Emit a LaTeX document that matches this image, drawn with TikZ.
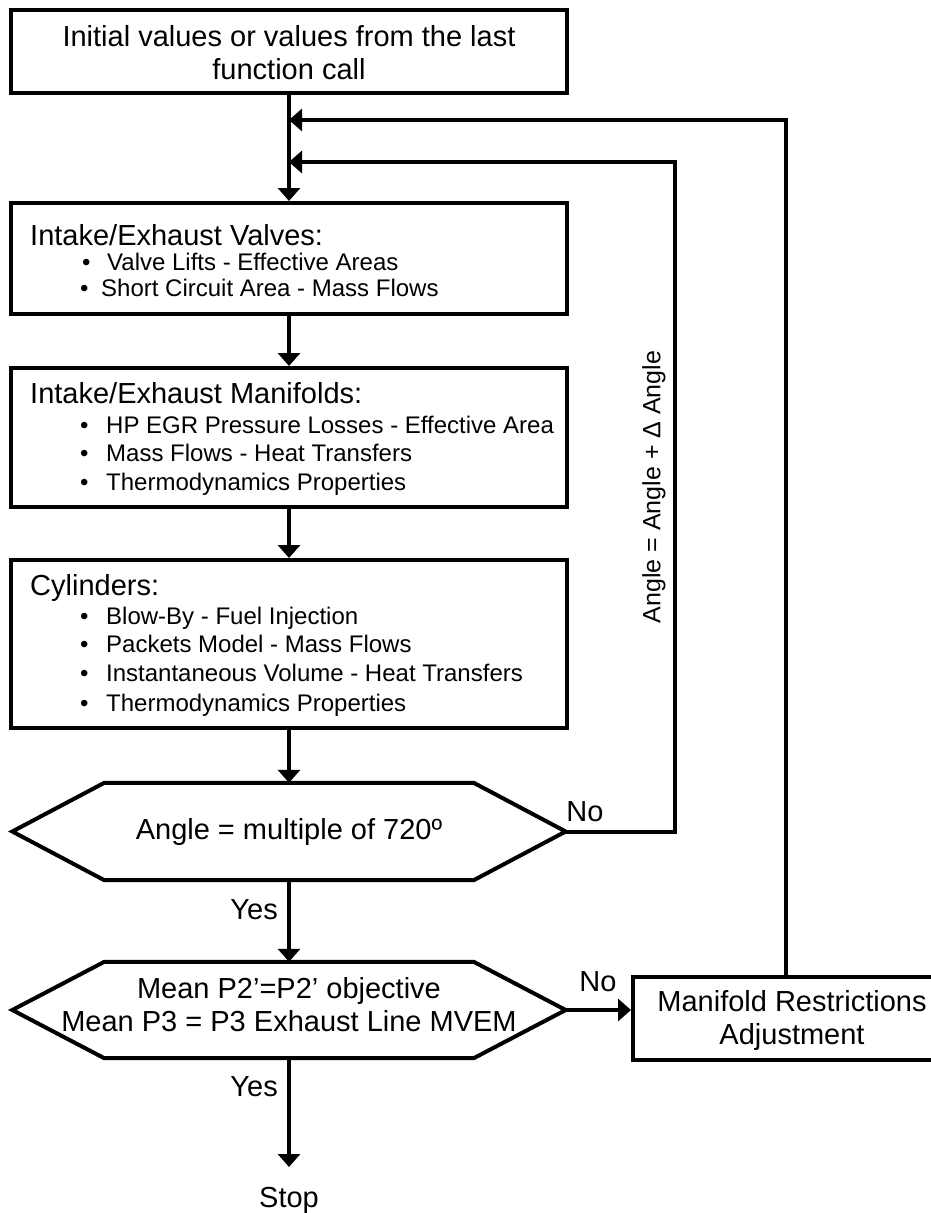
\documentclass[tikz,border=0pt]{standalone}
\usepackage{fontspec}
\setmainfont{Liberation Sans}
\usetikzlibrary{arrows.meta,calc}
\begin{document}
\begin{tikzpicture}[x=1pt,y=-1pt,
  box/.style={draw,line width=4pt,inner sep=0pt,minimum width=556pt,rectangle},
  hexshape/.style={inner sep=0pt,minimum width=553pt,minimum height=97pt,rectangle},
  arr/.style={line width=4pt,-{Triangle[length=13pt,width=22pt]}},
  big/.style={font=\fontsize{29}{33}\selectfont,inner sep=0pt},
  small/.style={font=\fontsize{24}{29}\selectfont,inner sep=0pt,anchor=base west},
  title/.style={font=\fontsize{29}{33}\selectfont,inner sep=0pt,anchor=base west}
]
\useasboundingbox (0,0) rectangle (930,1213);
\fill[white] (0,0) rectangle (930,1213);

% boxes
\node[box,minimum height=83pt] (init) at (289,51.5) {};
\node[big,align=center] (initT) at (289,53) {Initial values or values from the last\\function call};

\node[box,minimum height=111pt] (valves) at (289,258.5) {};
\node[title] (vT) at (30,245) {Intake/Exhaust Valves:};
\node[small] (vb1) at (82,270) {\textbullet};
\node[small] (vt1) at (107,270) {Valve Lifts - Effective Areas};
\node[small] (vb2) at (80,296) {\textbullet};
\node[small] (vt2) at (101,296) {Short Circuit Area - Mass Flows};

\node[box,minimum height=139pt] (manif) at (289,437.5) {};
\node[title] (mT) at (30,403) {Intake/Exhaust Manifolds:};
\node[small] (mb1) at (80,433) {\textbullet};
\node[small] (mt1) at (106,433) {HP EGR Pressure Losses - Effective Area};
\node[small] (mb2) at (80,461) {\textbullet};
\node[small] (mt2) at (106,461) {Mass Flows - Heat Transfers};
\node[small] (mb3) at (80,490) {\textbullet};
\node[small] (mt3) at (106,490) {Thermodynamics Properties};

\node[box,minimum height=168pt] (cyl) at (289,644) {};
\node[title] (cT) at (30,595) {Cylinders:};
\node[small] (cb1) at (80,624) {\textbullet};
\node[small] (ct1) at (106,624) {Blow-By - Fuel Injection};
\node[small] (cb2) at (80,652) {\textbullet};
\node[small] (ct2) at (106,652) {Packets Model - Mass Flows};
\node[small] (cb3) at (80,681) {\textbullet};
\node[small] (ct3) at (106,681) {Instantaneous Volume - Heat Transfers};
\node[small] (cb4) at (80,711) {\textbullet};
\node[small] (ct4) at (106,711) {Thermodynamics Properties};

% hexagons
\node[hexshape] (hexA) at (289,831.5) {};
\draw[line width=4pt,line join=miter] (hexA.west) -- ([xshift=92pt]hexA.north west) -- ([xshift=-92pt]hexA.north east) -- (hexA.east) -- ([xshift=-92pt]hexA.south east) -- ([xshift=92pt]hexA.south west) -- cycle;
\node[big] (hexAT) at (289,832) {Angle = multiple of 720º};

\node[hexshape,minimum height=96pt] (hexB) at (289,1010) {};
\draw[line width=4pt,line join=miter] (hexB.west) -- ([xshift=92pt]hexB.north west) -- ([xshift=-92pt]hexB.north east) -- (hexB.east) -- ([xshift=-92pt]hexB.south east) -- ([xshift=92pt]hexB.south west) -- cycle;
\node[big,align=center] (hexBT) at (289,1005) {Mean P2’=P2’ objective\\Mean P3 = P3 Exhaust Line MVEM};

\node[box,minimum width=318pt,minimum height=83pt] (adjust) at (792,1018.5) {};
\node[big,align=center] (adjT) at (792,1020) {Manifold Restrictions\\Adjustment};

% labels
\node[big] (no1) at (585,812) {No};
\node[big] (no2) at (598,982) {No};
\node[big,anchor=east] (yes1) at (278,910) {Yes};
\node[big,anchor=east] (yes2) at (278,1087) {Yes};
\node[big] (stop) at (289,1200) {Stop};
\node[font=\fontsize{25}{30}\selectfont,inner sep=0pt,rotate=90] (delta) at (654,487) {Angle = Angle + Δ Angle};

% coordinates
\coordinate (fbA) at (675,162);
\coordinate (fbin) at (289,162);
\coordinate (fbB) at (786,120);
\coordinate (fbout) at (289,120);
\coordinate (stopTip) at (289,1167);

% connectors
\draw[arr] (init.south) -- (valves.north);
\draw[arr] (valves.south) -- (manif.north);
\draw[arr] (manif.south) -- (cyl.north);
\draw[arr] (cyl.south) -- (hexA.north);
\draw[arr] (hexA.south) -- (hexB.north);
\draw[arr] (hexB.south) -- (stopTip);
\draw[arr] (hexB.east) -- (hexB.east -| adjust.west);
\draw[arr] (hexA.east) -| (fbA) -- (fbin);
\draw[arr] (fbB |- adjust.north) -- (fbB) -- (fbout);
\end{tikzpicture}
\end{document}
